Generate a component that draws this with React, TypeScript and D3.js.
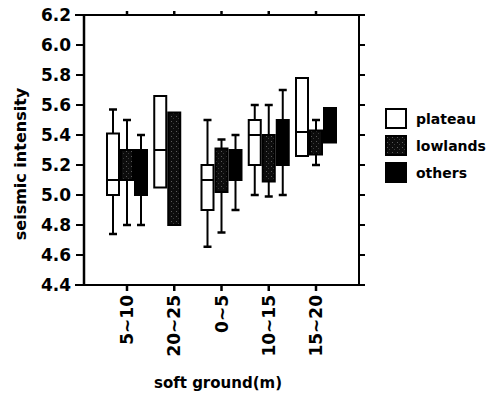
import React from 'react';
import * as d3 from 'd3';

const categories = ['5~10', '20~25', '0~5', '10~15', '15~20'];
const seriesNames = ['plateau', 'lowlands', 'others'];
const yTicks = [4.4, 4.6, 4.8, 5.0, 5.2, 5.4, 5.6, 5.8, 6.0, 6.2];

// whisker low, box bottom, median, box top, whisker high (null = not drawn)
const plateauLow = [4.74, null, 4.655, 5.0, null];
const plateauQ1 = [5.0, 5.05, 4.9, 5.2, 5.26];
const plateauMed = [5.1, 5.3, 5.1, 5.4, 5.42];
const plateauQ3 = [5.41, 5.66, 5.2, 5.5, 5.78];
const plateauHigh = [5.57, null, 5.5, 5.6, null];

const lowlandsLow = [4.8, null, 4.75, 4.99, 5.2];
const lowlandsQ1 = [5.1, 4.8, 5.02, 5.09, 5.27];
const lowlandsMed = [null, null, null, null, null];
const lowlandsQ3 = [5.3, 5.55, 5.31, 5.4, 5.43];
const lowlandsHigh = [5.5, null, 5.37, 5.6, 5.5];

const othersLow = [4.8, null, 4.9, 5.0, null];
const othersQ1 = [5.0, null, 5.1, 5.2, 5.35];
const othersMed = [null, null, null, null, null];
const othersQ3 = [5.3, null, 5.3, 5.5, 5.58];
const othersHigh = [5.4, null, 5.4, 5.7, null];

const series = [
  { name: 'plateau', low: plateauLow, q1: plateauQ1, med: plateauMed, q3: plateauQ3, high: plateauHigh, fill: '#fff' },
  { name: 'lowlands', low: lowlandsLow, q1: lowlandsQ1, med: lowlandsMed, q3: lowlandsQ3, high: lowlandsHigh, fill: 'url(#dots)' },
  { name: 'others', low: othersLow, q1: othersQ1, med: othersMed, q3: othersQ3, high: othersHigh, fill: '#000' },
];

const W = 489;
const H = 393;
const left = 84;
const right = 359;
const top = 15;
const bottom = 285;
const font = '"DejaVu Sans", sans-serif';

export default function App() {
  const x = d3.scaleBand().domain(categories).range([left, right]).paddingOuter(0.41);
  const inner = d3.scaleBand().domain(seriesNames).range([-21, 21]);
  const y = d3.scaleLinear().domain([4.4, 6.2]).range([bottom, top]);
  const bw = inner.bandwidth();

  return (
    <svg width={W} height={H} style={{ position: 'absolute', left: 0, top: 0 }}>
      <defs>
        <pattern id="dots" width="5" height="5" patternUnits="userSpaceOnUse">
          <rect width="5" height="5" fill="#0d0d0d" />
          <rect x="1" y="1" width="1" height="1" fill="#5a5a5a" />
          <rect x="3" y="3" width="1" height="1" fill="#3a3a3a" />
        </pattern>
      </defs>
      <rect width={W} height={H} fill="#fff" />

      {/* frame */}
      <g stroke="#000" fill="none">
        <line x1={left} x2={left} y1={top - 1} y2={bottom + 1} strokeWidth={2.5} />
        <line x1={right} x2={right} y1={top - 1} y2={bottom + 1} strokeWidth={2} />
        <line x1={left - 9} x2={right + 6} y1={top} y2={top} strokeWidth={2} />
        <line x1={left - 9} x2={right + 6} y1={bottom} y2={bottom} strokeWidth={2} />
      </g>

      {/* y ticks */}
      {yTicks.map((t) => (
        <g key={t}>
          <line x1={left - 8} x2={left} y1={y(t)} y2={y(t)} stroke="#000" strokeWidth={2} />
          <line x1={right} x2={right + 6} y1={y(t)} y2={y(t)} stroke="#000" strokeWidth={2} />
          <text x={left - 13} y={y(t) + 6} textAnchor="end" fontFamily={font} fontWeight="bold" fontSize={17}>
            {d3.format('.1f')(t)}
          </text>
        </g>
      ))}

      {/* x ticks */}
      {categories.map((c) => {
        const cx = (x(c) as number) + x.bandwidth() / 2;
        return (
          <g key={c}>
            <line x1={cx} x2={cx} y1={bottom} y2={bottom + 6} stroke="#000" strokeWidth={2.5} />
            <line x1={cx} x2={cx} y1={top - 4} y2={top} stroke="#000" strokeWidth={2.5} />
            <text
              transform={`translate(${cx + 6},${bottom + 10}) rotate(-90)`}
              textAnchor="end"
              fontFamily={font}
              fontWeight="bold"
              fontSize={17}
            >
              {c}
            </text>
          </g>
        );
      })}

      {/* boxes */}
      {series.map((s) =>
        categories.map((c, i) => {
          const q1 = s.q1[i];
          const q3 = s.q3[i];
          if (q1 == null || q3 == null) return null;
          const cx = (x(c) as number) + x.bandwidth() / 2 + (inner(s.name) as number) + bw / 2;
          const lo = s.low[i];
          const hi = s.high[i];
          const med = s.med[i];
          return (
            <g key={s.name + c} stroke="#000">
              {hi != null && (
                <>
                  <line x1={cx} x2={cx} y1={y(hi)} y2={y(q3)} strokeWidth={2} />
                  <line x1={cx - 4} x2={cx + 4} y1={y(hi)} y2={y(hi)} strokeWidth={2.5} />
                </>
              )}
              {lo != null && (
                <>
                  <line x1={cx} x2={cx} y1={y(q1)} y2={y(lo)} strokeWidth={2} />
                  <line x1={cx - 4} x2={cx + 4} y1={y(lo)} y2={y(lo)} strokeWidth={2.5} />
                </>
              )}
              <rect x={cx - bw / 2 + 1} y={y(q3)} width={bw - 2} height={y(q1) - y(q3)} fill={s.fill} strokeWidth={2} />
              {med != null && (
                <line x1={cx - bw / 2 + 1} x2={cx + bw / 2 - 1} y1={y(med)} y2={y(med)} strokeWidth={2} />
              )}
            </g>
          );
        })
      )}

      {/* legend */}
      {series.map((s, i) => (
        <g key={s.name} transform={`translate(386,${109 + i * 27})`}>
          <rect width={20} height={19} fill={s.fill} stroke="#000" strokeWidth={2} />
          <text x={30} y={15} fontFamily={font} fontWeight="bold" fontSize={14}>
            {s.name}
          </text>
        </g>
      ))}

      {/* axis titles */}
      <text
        transform={`translate(26,${(top + bottom) / 2 + 14}) rotate(-90)`}
        textAnchor="middle"
        fontFamily={font}
        fontWeight="bold"
        fontSize={16}
      >
        seismic intensity
      </text>
      <text x={218} y={388} textAnchor="middle" fontFamily={font} fontWeight="bold" fontSize={15}>
        soft ground(m)
      </text>
    </svg>
  );
}
